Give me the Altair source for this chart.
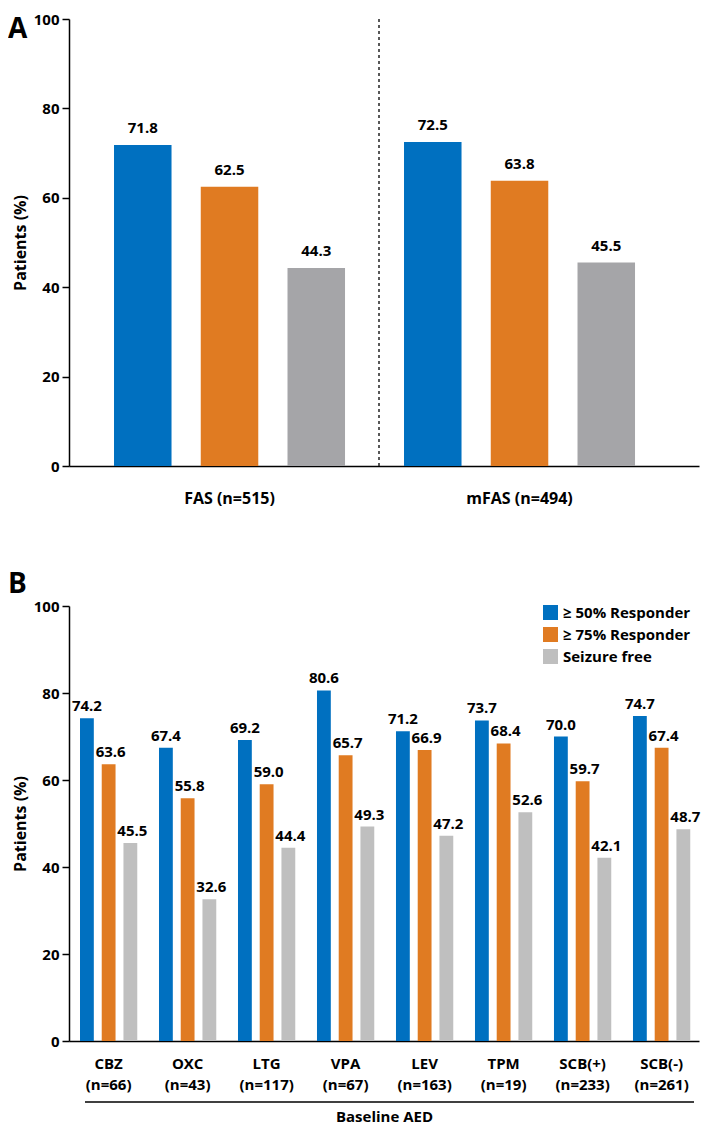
import altair as alt
import pandas as pd

FONT = "Open Sans"

series = ["≥ 50% Responder", "≥ 75% Responder", "Seizure free"]
colors_a = ["#0070C0", "#E07B22", "#A5A5A8"]
colors_b = ["#0070C0", "#E07B22", "#BFBFBF"]
y_ticks = [0, 20, 40, 60, 80, 100]

# Panel A
groups_a = ["FAS (n=515)", "mFAS (n=494)"]
a_resp50 = [71.8, 72.5]
a_resp75 = [62.5, 63.8]
a_free = [44.3, 45.5]

# Panel B
drugs_b = ["CBZ", "OXC", "LTG", "VPA", "LEV", "TPM", "SCB(+)", "SCB(-)"]
n_b = [66, 43, 117, 67, 163, 19, 233, 261]
b_resp50 = [74.2, 67.4, 69.2, 80.6, 71.2, 73.7, 70.0, 74.7]
b_resp75 = [63.6, 55.8, 59.0, 65.7, 66.9, 68.4, 59.7, 67.4]
b_free = [45.5, 32.6, 44.4, 49.3, 47.2, 52.6, 42.1, 48.7]

W = 630
HA = 447
HB = 435


def to_long(groups, cols):
    rows = []
    for i, g in enumerate(groups):
        for s, vals in zip(series, cols):
            rows.append({"group": g, "series": s, "value": vals[i]})
    return pd.DataFrame(rows)


df_a = to_long(groups_a, [a_resp50, a_resp75, a_free])
labels_b = [f"{d}|(n={n})" for d, n in zip(drugs_b, n_b)]
df_b = to_long(labels_b, [b_resp50, b_resp75, b_free])
one = pd.DataFrame({"k": [0]})


def y_enc():
    return alt.Y(
        "value:Q",
        scale=alt.Scale(domain=[0, 100], nice=False),
        axis=alt.Axis(
            values=y_ticks, title="Patients (%)", titleFontSize=16,
            titlePadding=5, labelFontSize=15, labelPadding=3, tickSize=7,
            tickColor="black", tickWidth=1.5, domainColor="black",
            domainWidth=1.5, grid=False,
        ),
    )


# ---------- Panel A ----------
x_a = alt.X(
    "group:N", sort=groups_a,
    scale=alt.Scale(paddingInner=0.2034, paddingOuter=0.1879, align=0.413),
    axis=alt.Axis(title=None, labelAngle=0, ticks=False, labelPadding=24,
                  labelFontSize=16, domainColor="black", domainWidth=1.5),
)
xo_a = alt.XOffset("series:N", sort=series,
                   scale=alt.Scale(paddingInner=0.337, paddingOuter=0))
col_a = alt.Color("series:N", sort=series,
                  scale=alt.Scale(domain=series, range=colors_a), legend=None)

bars_a = alt.Chart(df_a).mark_bar().encode(x=x_a, xOffset=xo_a, y=y_enc(), color=col_a)
text_a = alt.Chart(df_a).mark_text(
    baseline="alphabetic", dy=-12, fontSize=15, fontWeight="bold", color="black"
).encode(x=x_a, xOffset=xo_a, y=y_enc(), text=alt.Text("value:Q", format=".1f"))
sep_a = alt.Chart(one).mark_rule(strokeDash=[3, 3], color="#222", strokeWidth=1.5).encode(
    x=alt.value(310), y=alt.value(0), y2=alt.value(HA))
lab_a = alt.Chart(one).mark_text(
    text="A", fontSize=28, fontWeight="bold", align="left", baseline="alphabetic", color="black"
).encode(x=alt.value(-61), y=alt.value(19))

panel_a = alt.layer(bars_a, text_a, sep_a, lab_a).properties(width=W, height=HA)

# ---------- Panel B ----------
x_b = alt.X(
    "group:N", sort=labels_b,
    scale=alt.Scale(paddingInner=0.275, paddingOuter=0.125, align=0.557),
    axis=alt.Axis(title="Baseline AED", labelAngle=0, ticks=False, labelPadding=15,
                  labelFontSize=15, labelLineHeight=21,
                  labelExpr="split(datum.label, '|')", titlePadding=17,
                  titleFontSize=15, domainColor="black", domainWidth=1.5),
)
xo_b = alt.XOffset("series:N", sort=series,
                   scale=alt.Scale(paddingInner=0.364, paddingOuter=0))
col_b = alt.Color(
    "series:N", sort=series, scale=alt.Scale(domain=series, range=colors_b),
    legend=alt.Legend(orient="none", legendX=474, legendY=-1, title=None,
                      symbolType="square", symbolSize=225, symbolStrokeWidth=0,
                      symbolOpacity=1, labelFontSize=15, labelOffset=5,
                      rowPadding=6, padding=0),
)
bars_b = alt.Chart(df_b).mark_bar().encode(x=x_b, xOffset=xo_b, y=y_enc(), color=col_b)
text_layers = []
for s, dx in zip(series, [0, 2, 2]):
    text_layers.append(
        alt.Chart(df_b).transform_filter(alt.datum.series == s).mark_text(
            baseline="alphabetic", dy=-7, dx=dx, fontSize=15, fontWeight="bold", color="black"
        ).encode(x=x_b, xOffset=xo_b, y=y_enc(), text=alt.Text("value:Q", format=".1f"))
    )
under_b = alt.Chart(one).mark_rule(color="black", strokeWidth=1.5).encode(
    x=alt.value(16), x2=alt.value(625), y=alt.value(HB + 61))
lab_b = alt.Chart(one).mark_text(
    text="B", fontSize=28, fontWeight="bold", align="left", baseline="alphabetic", color="black"
).encode(x=alt.value(-61), y=alt.value(-13))

panel_b = alt.layer(bars_b, *text_layers, under_b, lab_b).properties(width=W, height=HB)

chart = (
    alt.vconcat(panel_a, panel_b, spacing=65)
    .resolve_scale(x="independent", y="independent", color="independent", xOffset="independent")
    .resolve_legend(color="independent")
    .properties(padding={"top": 4, "bottom": 2, "left": 0, "right": 0})
    .configure(font=FONT)
    .configure_view(stroke=None)
    .configure_axis(labelFontWeight="bold", titleFontWeight="bold",
                    labelColor="black", titleColor="black")
    .configure_legend(labelFontWeight="bold", labelColor="black")
)

chart.save("out.html", embed_options={"renderer": "svg", "actions": False})
